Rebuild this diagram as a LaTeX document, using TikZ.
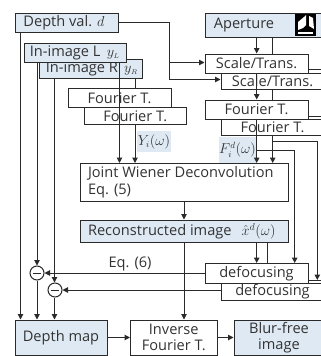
\documentclass[tikz,border=0pt]{standalone}
\usepackage{fontspec}
\setmainfont{Open Sans}
\usetikzlibrary{arrows.meta}
\definecolor{pale}{HTML}{DEE9F3}
\definecolor{ink}{HTML}{2A2A2A}
\definecolor{txt}{HTML}{333333}
\tikzset{
  boxb/.style={draw=ink,line width=1pt,inner sep=0pt,align=center,font=\fontsize{14.6}{16.5}\selectfont,text=txt},
  tint/.style={fill=pale},
  plain/.style={fill=white},
  conn/.style={draw=ink,line width=1pt},
  arr/.style={conn,-{Triangle[length=5.5pt,width=5.5pt]}},
  minus/.style={circle,draw=ink,line width=1pt,fill=white,minimum size=14pt,inner sep=0pt},
  lab/.style={inner sep=0pt,text=txt,font=\fontsize{14.6}{16}\selectfont},
  mlab/.style={inner sep=0pt,text=txt,font=\fontsize{13.5}{15}\selectfont},
}
\newcommand{\bx}[7]{\node[boxb,#6,minimum width={(#4)-(#2)},minimum height={(#5)-(#3)}] (#1) at ({((#2)+(#4))/2},{((#3)+(#5))/2}) {#7};}
\begin{document}
\begin{tikzpicture}[x=1pt,y=-1pt]
\useasboundingbox (0,0) rectangle (321,356);
\fill[white] (0,0) rectangle (321,356);
% x guides
\coordinate (xa) at (20.5,0);
\coordinate (xb) at (37,0);
\coordinate (xc) at (54.5,0);
\coordinate (xd) at (119.5,0);
\coordinate (xe) at (135,0);
\coordinate (xf) at (169,0);
\coordinate (xg) at (184,0);
\coordinate (xh) at (256.7,0);
\coordinate (xi) at (267.7,0);
\coordinate (xj) at (272.7,0);
\coordinate (xk) at (294.7,0);
\coordinate (xl) at (317.3,0);
\coordinate (ya) at (0,62.5);
\coordinate (yb) at (0,79.5);
\coordinate (yc) at (0,141);
\coordinate (yd) at (0,150);
\coordinate (ye) at (0,69.5);
\coordinate (yf) at (0,116);
\coordinate (yg) at (0,280);
\coordinate (edge) at (321,0);
% boxes
\bx{depth}{15}{13}{118}{32}{tint}{\hspace*{-5pt}Depth val. $d$}
\bx{inR}{39.5}{59}{142}{78}{tint}{\hspace*{2pt}In-image R \,$y_{\scriptscriptstyle R}$}
\bx{inL}{24}{43}{126.5}{62}{tint}{\hspace*{-1pt}In-image L \,$y_{\scriptscriptstyle L}$}
\bx{fb}{84}{107.5}{186.5}{124}{plain}{Fourier T.}
\bx{fa}{68}{88}{171}{107.5}{plain}{Fourier T.}
\bx{ap}{205}{13}{324}{37}{tint}{\hspace*{-41pt}Aperture}
\bx{sb}{221}{73}{324}{89}{plain}{Scale/Trans.}
\bx{sa}{205}{54}{308}{73}{plain}{Scale/Trans.}
\bx{rb}{221}{119}{324}{135}{plain}{Fourier T.}
\bx{ra}{205}{100}{308}{119}{plain}{Fourier T.}
\bx{joint}{80}{163.5}{288}{201.3}{plain}{\parbox{192pt}{Joint Wiener Deconvolution\\Eq. (5)}}
\bx{rec}{80}{220}{288}{242}{tint}{\parbox{192pt}{Reconstructed image\hspace{10pt}$\hat{x}^{d}(\omega)$}}
\bx{db}{221}{283}{324}{300}{plain}{defocusing}
\bx{da}{205}{263.5}{308}{283}{plain}{defocusing}
\bx{map}{15}{320}{107}{355}{tint}{Depth map}
\bx{inv}{130.5}{320}{217}{355}{plain}{Inverse\\Fourier T.}
\bx{blur}{234}{320}{324}{355}{tint}{Blur-free\\image}
\node[minus] (ca) at (37,273) {};
\node[minus] (cb) at (55,290) {};
\draw[conn] (ca.west) ++(3,0) -- ++(8,0);
\draw[conn] (cb.west) ++(3,0) -- ++(8,0);
% labels
\node[mlab,fill=pale,minimum width=34pt,minimum height=21pt] (ylab) at (154,141.5) {$Y_i(\omega)$};
\node[mlab,fill=pale,minimum width=37pt,minimum height=26pt] (flab) at (237.5,150) {$F_i^{d}(\omega)$};
\node[lab] (eqsix) at (130,264) {Eq. (6)};
% aperture icon
\fill[black] (294.5,14) rectangle (315.5,36);
\fill[white] (298,22) -- (304,17) -- (306,15) -- (306,25) -- (303,28) -- (298,30) -- cycle;
\fill[white] (309,16) -- (313,18) -- (314,29) -- (309,26) -- cycle;
\fill[white] (298,32) -- (313,32) -- (313,34) -- (298,34) -- cycle;
% connectors
\draw[arr] (depth.south -| xa) -- (map.north -| xa);
\draw[conn] (depth.east) -| (yb -| xf);
\draw[arr] (ya -| xf) -- (sa.west |- ya);
\draw[arr] (yb -| xf) -- (sb.west |- yb);
\draw[arr] (inL.south -| xb) -- (ca.north);
\draw[arr] (ca.south) -- (map.north -| xb);
\draw[arr] (inR.south -| xc) -- (cb.north -| xc);
\draw[arr] (cb.south -| xc) -- (map.north -| xc);
\draw[arr] (inL.south -| xd) -- (joint.north -| xd);
\draw[conn] (inR.south -| xe) -- (fa.north -| xe);
\draw[arr] (fb.south -| xe) -- (joint.north -| xe);
\draw[arr] (ap.south -| xh) -- (sa.north -| xh);
\draw[conn] (ap.south -| xj) -- (sa.north -| xj);
\draw[arr] (sa.south -| xh) -- (ra.north -| xh);
\draw[conn] (sb.south -| xj) -- (ra.north -| xj);
\draw[arr] (ra.south -| xh) -- (joint.north -| xh);
\draw[arr] (rb.south -| xj) -- (joint.north -| xj);
\draw[conn] (sa.east |- ye) -- (edge |- ye);
\draw[conn] (ra.east |- yf) -- (edge |- yf);
\draw[arr] (flab.east |- yd) -| (da.north -| xk);
\draw[arr] (xj |- yc) -| (yg -| xl);
\draw[conn] (da.east |- yg) -- (edge |- yg);
\draw[arr] (joint.south -| xg) -- (rec.north -| xg);
\draw[arr] (rec.south -| xg) -- (inv.north -| xg);
\draw[arr] (rec.south -| xh) -- (da.north -| xh);
\draw[conn] (rec.south -| xi) -- (da.north -| xi);
\draw[arr] (da.west |- ca) -- (ca.east);
\draw[arr] (db.west |- cb) -- (cb.east);
\draw[arr] (map.east) -- (inv.west |- map);
\draw[arr] (inv.east) -- (blur.west |- inv);
\end{tikzpicture}
\end{document}
